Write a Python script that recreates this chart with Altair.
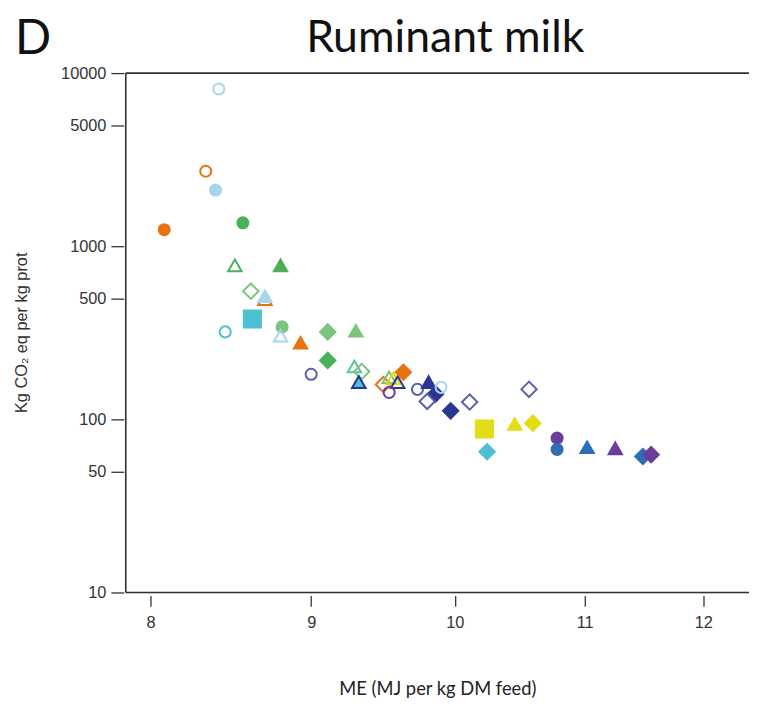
import altair as alt
import pandas as pd

# ME (MJ per kg DM feed), log scale
me = [8.41, 8.33, 8.39, 8.08, 8.56, 8.51, 8.80, 8.61, 8.70, 8.70,
      8.62, 8.45, 8.81, 8.80, 8.93, 9.11, 9.30, 9.11, 9.00, 9.29,
      9.34, 9.32, 9.32, 9.49, 9.53, 9.56, 9.59, 9.63, 9.53, 9.73,
      9.81, 9.86, 9.90, 9.80, 9.97, 10.11, 10.56, 10.22, 10.24, 10.45,
      10.59, 10.78, 10.78, 11.02, 11.25, 11.48, 11.55]
# Kg CO2 eq per kg protein, log scale
co2 = [8100, 2710, 2110, 1246, 1366, 775, 775, 550, 495, 515,
       380, 320, 342, 304, 277, 320, 325, 219, 182, 202,
       189, 164, 164, 159, 175, 172, 164, 187, 143, 149,
       164, 140, 153, 127, 112, 126, 149, 88, 65, 94,
       95, 78, 67, 69, 68, 61, 62.5]
system = ["circle", "circle", "circle", "circle", "circle", "triangle", "triangle", "diamond", "triangle", "triangle",
          "square", "circle", "circle", "triangle", "triangle", "diamond", "triangle", "diamond", "circle", "triangle",
          "diamond", "triangle", "triangle", "diamond", "triangle", "triangle", "triangle", "diamond", "circle", "circle",
          "triangle", "diamond", "circle", "diamond", "diamond", "diamond", "diamond", "square", "diamond", "triangle",
          "diamond", "circle", "circle", "triangle", "triangle", "diamond", "diamond"]
region = ["R2", "R1", "R2", "R1", "R3", "R3", "R3", "R4", "R1", "R2",
          "R5", "R5", "R4", "R2", "R1", "R4", "R4", "R3", "R7", "R6",
          "R4", "R5", "R8", "R1", "R4", "R10", "R8", "R1", "R9", "R7",
          "R8", "R8", "R2", "R7", "R8", "R7", "R7", "R10", "R5", "R10",
          "R10", "R9", "R11", "R11", "R9", "R11", "R9"]
fill_type = ["open", "open", "filled", "filled", "filled", "open", "filled", "open", "open", "filled",
             "filled", "open", "filled", "open", "filled", "filled", "filled", "filled", "open", "open",
             "open", "filled", "open", "open", "open", "open", "open", "filled", "open", "open",
             "filled", "filled", "open", "open", "filled", "open", "open", "filled", "filled", "filled",
             "filled", "filled", "filled", "filled", "filled", "filled", "filled"]

region_names = ["R1", "R2", "R3", "R4", "R5", "R6", "R7", "R8", "R9", "R10", "R11"]
region_colors = ["#e8730e", "#a6d5ee", "#4caf5a", "#7dc47f", "#4ec0d4", "#5fbf9f",
                 "#5b5fb0", "#2c3590", "#6a3d9a", "#e4dc14", "#2f6db5"]
system_names = ["circle", "triangle", "diamond", "square"]
system_shapes = ["circle", "triangle-up", "diamond", "square"]
system_sizes = [125, 300, 300, 110]

df = pd.DataFrame({"me": me, "co2": co2, "system": system, "region": region, "fill_type": fill_type})

W, H = 630, 525

xscale = alt.Scale(type="log", domain=[7.855, 12.41], nice=False)
yscale = alt.Scale(type="log", domain=[10, 10000], nice=False)
cscale = alt.Scale(domain=region_names, range=region_colors)

points = alt.Chart(df).mark_point(strokeWidth=2, opacity=1).encode(
    x=alt.X("me:Q", scale=xscale,
            axis=alt.Axis(values=[8, 9, 10, 11, 12], format="d", domain=False, grid=False,
                          tickSize=11, offset=3, tickColor="#333", tickWidth=1.3,
                          labelFont="Liberation Sans", labelFontSize=16.5, labelColor="#333",
                          labelPadding=8, labelFlush=False,
                          title="ME (MJ per kg DM feed)", titleFont="Lato", titleFontSize=18.5,
                          titleFontWeight="normal", titleColor="#222", titlePadding=50)),
    y=alt.Y("co2:Q", scale=yscale,
            axis=alt.Axis(values=[10, 50, 100, 500, 1000, 5000, 10000], format="d", domain=False,
                          grid=False, tickSize=13, offset=2, tickColor="#333", tickWidth=1.3,
                          labelFont="Liberation Sans", labelFontSize=16.5, labelColor="#333",
                          labelPadding=5, labelFlush=False,
                          title="Kg CO\u2082 eq per kg prot", titleFont="Liberation Sans",
                          titleFontSize=16.5, titleFontWeight="normal", titleColor="#333",
                          titleX=-103, titleY=262, titleAngle=270, titleAlign="center",
                          titleBaseline="middle")),
    shape=alt.Shape("system:N", scale=alt.Scale(domain=system_names, range=system_shapes), legend=None),
    size=alt.Size("system:N", scale=alt.Scale(domain=system_names, range=system_sizes), legend=None),
    stroke=alt.Stroke("region:N", scale=cscale, legend=None),
    fill=alt.condition("datum.fill_type == 'filled'",
                       alt.Fill("region:N", scale=cscale, legend=None),
                       alt.value("transparent")),
)

frame_df = pd.DataFrame({"k": [0]})
top_line = alt.Chart(frame_df).mark_rule(color="#333", strokeWidth=1.6).encode(
    x=alt.value(0), x2=alt.value(W), y=alt.value(0))
bottom_line = alt.Chart(frame_df).mark_rule(color="#333", strokeWidth=1.6).encode(
    x=alt.value(0), x2=alt.value(W), y=alt.value(H))
left_line = alt.Chart(frame_df).mark_rule(color="#333", strokeWidth=1.6).encode(
    x=alt.value(0), y=alt.value(0), y2=alt.value(H))

title_df = pd.DataFrame({"t": ["Ruminant milk"]})
title_text = alt.Chart(title_df).mark_text(font="Lato", fontSize=45, color="#111",
                                           align="center", baseline="alphabetic").encode(
    x=alt.value(323), y=alt.value(-21), text="t:N")
panel_df = pd.DataFrame({"t": ["D"]})
panel_text = alt.Chart(panel_df).mark_text(font="Lato", fontSize=48, color="#111",
                                           align="left", baseline="alphabetic").encode(
    x=alt.value(-112), y=alt.value(-19), text="t:N")

chart = alt.layer(top_line, bottom_line, left_line, points, title_text, panel_text).properties(
    width=W, height=H,
    autosize=alt.AutoSizeParams(type="none"),
    padding={"left": 119, "top": 62, "right": 0, "bottom": 115},
).configure_view(stroke=None).configure(background="white")

chart.save("out.html", embed_options={"renderer": "svg", "actions": False})
